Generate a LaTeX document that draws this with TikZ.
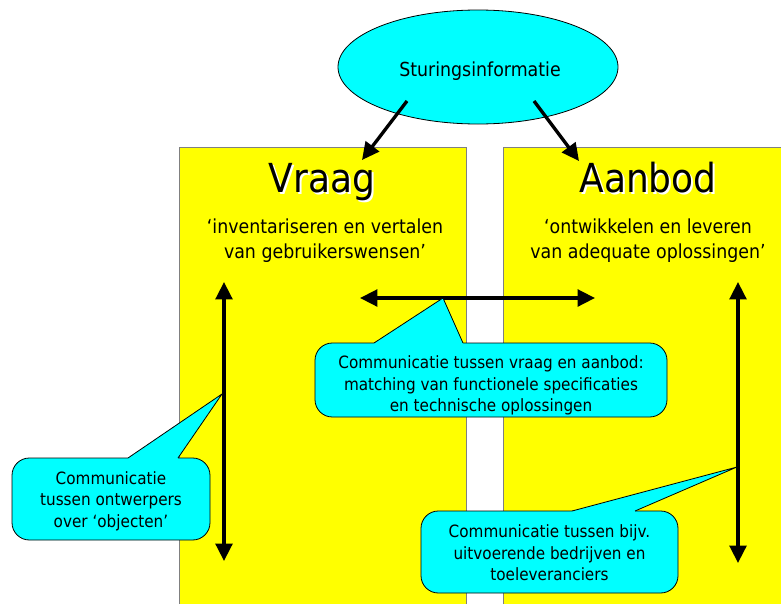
\documentclass[tikz,border=0pt]{standalone}
\usepackage{fontspec}
\setmainfont{DejaVu Sans}[FakeStretch=0.9]
\usetikzlibrary{arrows.meta,shapes.geometric}
\definecolor{panelyellow}{HTML}{FFFF00}
\definecolor{bubblecyan}{HTML}{00FFFF}
\definecolor{panelborder}{HTML}{808080}
\begin{document}
\begin{tikzpicture}[x=0.75pt,y=-0.75pt,
  panel/.style={draw=panelborder, fill=panelyellow, line width=0.8pt, inner sep=0,
    anchor=north west, minimum width=215.25pt, minimum height=360pt},
  bigarrow/.style={line width=2.5pt, >={Triangle[length=13pt,width=12.5pt]}},
  bubble/.style={draw=black, fill=bubblecyan, line width=0.6pt, rounded corners=13pt,
    inner sep=0},
  bubbletext/.style={align=center, inner sep=0, font=\fontsize{12.7}{16}\selectfont},
  wedgefill/.style={fill=bubblecyan},
  wedgeline/.style={draw=black, line width=0.6pt, line join=miter},
  titletext/.style={font=\fontsize{30}{36}\selectfont, anchor=base},
  subtext/.style={font=\fontsize{14.5}{18.75}\selectfont, align=center}]
\useasboundingbox (0,0) rectangle (781,603);
\clip (0,0) rectangle (781,603);
\fill[white] (0,0) rectangle (781,603);

% the two columns
\node[panel] (vraag) at (179,147) {};
\node[panel] (aanbod) at (503,147) {};

% column headings with their white drop shadow
\node[titletext, text=white] (vraagshadow) at (324,194) {Vraag};
\node[titletext] (vraagtitle) at (322,192) {Vraag};
\node[titletext, text=white] (aanbodshadow) at (650,194) {Aanbod};
\node[titletext] (aanbodtitle) at (648,192) {Aanbod};

\node[subtext] (vraagsub) at (325,241) {‘inventariseren en vertalen\\van gebruikerswensen’};
\node[subtext] (aanbodsub) at (648,241) {‘ontwikkelen en leveren\\van adequate oplossingen’};

% steering information on top
\node[ellipse, draw=black, fill=bubblecyan, line width=0.6pt, minimum width=210pt,
  minimum height=85.5pt, inner sep=0] (sturing) at (478,67) {};
\node[anchor=base, inner sep=0, font=\fontsize{14.5}{18}\selectfont]
  (sturingtext) at (480,76) {Sturingsinformatie};
\coordinate (sturingL) at (407,101);
\coordinate (sturingR) at (534,101);
\coordinate (vraagin) at (362,160);
\coordinate (aanbodin) at (579,161);
\draw[bigarrow, ->] (sturingL) -- (vraagin);
\draw[bigarrow, ->] (sturingR) -- (aanbodin);

% communication arrows
\coordinate (hL) at (360,298);
\coordinate (hR) at (595,298);
\coordinate (vLtop) at (224,282);
\coordinate (vLbot) at (224,561);
\coordinate (vRtop) at (738,282);
\coordinate (vRbot) at (738,563);
\draw[bigarrow, <->] (hL) -- (hR);
\draw[bigarrow, <->] (vLtop) -- (vLbot);
\draw[bigarrow, <->] (vRtop) -- (vRbot);

% callout between the columns
\node[bubble, minimum width=264pt, minimum height=55.5pt] (midnote) at (491,380) {};
\node[bubbletext] (midtext) at ([yshift=-4pt]midnote.center)
  {Communicatie tussen vraag en aanbod:\\matching van functionele specificaties\\en technische oplossingen};
\coordinate (midtip) at (443,298);
\fill[wedgefill] (374,343) -- (midtip) -- (463,343) -- (463,345.5) -- (374,345.5) -- cycle;
\draw[wedgeline] (374,343) -- (midtip) -- (463,343);

% callout on the left
\node[bubble, minimum width=148.5pt, minimum height=61.5pt] (leftnote) at (111,499) {};
\node[bubbletext] (lefttext) at ([yshift=-1.5pt]leftnote.center)
  {Communicatie\\tussen ontwerpers\\over ‘objecten’};
\coordinate (lefttip) at (222,394);
\fill[wedgefill] (128,458) -- (lefttip) -- (178,458) -- (178,460.5) -- (128,460.5) -- cycle;
\draw[wedgeline] (128,458) -- (lefttip) -- (178,458);

% callout on the right
\node[bubble, minimum width=192.75pt, minimum height=61.5pt] (rightnote) at (549.5,552) {};
\node[bubbletext] (righttext) at ([yshift=-0.75pt]rightnote.center)
  {Communicatie tussen bijv.\\uitvoerende bedrijven en\\toeleveranciers};
\coordinate (righttip) at (737,467);
\fill[wedgefill] (572,511) -- (righttip) -- (635,511) -- (635,513.5) -- (572,513.5) -- cycle;
\draw[wedgeline] (572,511) -- (righttip) -- (635,511);
\end{tikzpicture}
\end{document}
